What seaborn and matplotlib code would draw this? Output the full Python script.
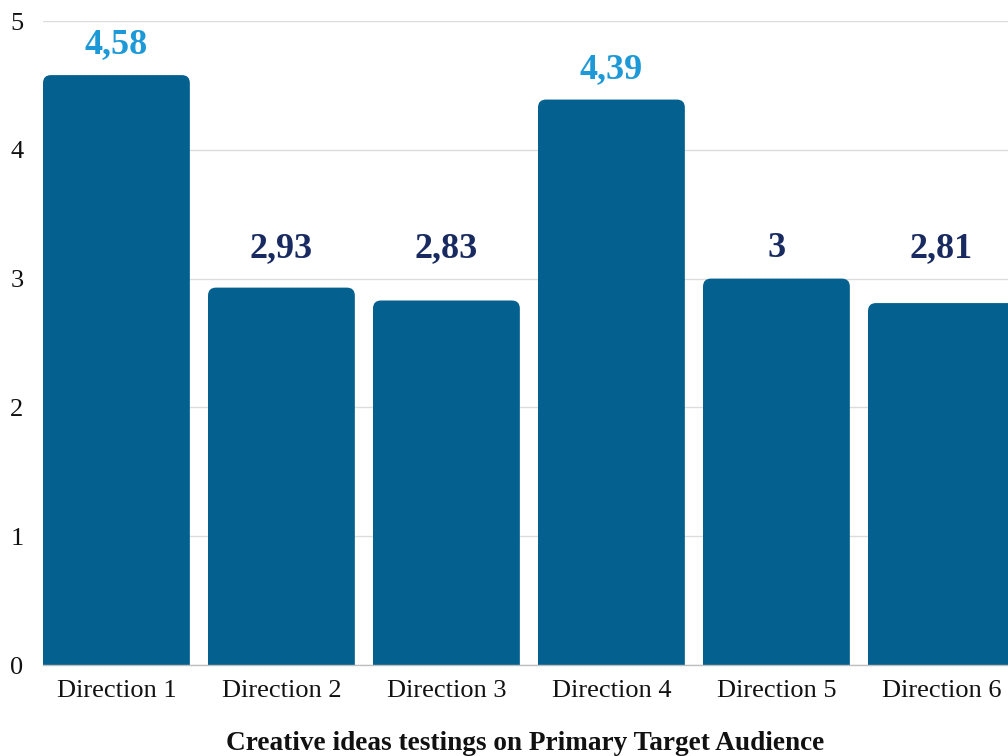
import matplotlib
matplotlib.use("Agg")
import matplotlib.pyplot as plt
from matplotlib.patches import FancyBboxPatch
import seaborn as sns
import pandas as pd

# Data
directions = ["Direction 1", "Direction 2", "Direction 3", "Direction 4", "Direction 5", "Direction 6"]
scores = [4.58, 2.93, 2.83, 4.39, 3.0, 2.81]
score_labels = ["4,58", "2,93", "2,83", "4,39", "3", "2,81"]
highlighted = [True, False, False, True, False, False]
y_ticks = [0, 1, 2, 3, 4, 5]
x_title = "Creative ideas testings on Primary Target Audience"

BAR_COLOR = "#04618F"
HIGHLIGHT_COLOR = "#1C99D6"
LABEL_COLOR = "#182A60"
GRID_COLOR = "#DCDCDC"

sns.set_theme(style="white")
plt.rcParams["font.family"] = ["Liberation Serif", "DejaVu Serif"]

df = pd.DataFrame({"direction": directions, "score": scores})

fig = plt.figure(figsize=(10.08, 7.56), dpi=100)
ax = fig.add_axes([43 / 1008, 1 - 665 / 756, 1 - 43 / 1008, (665 - 21) / 756])

sns.barplot(data=df, x="direction", y="score", color=BAR_COLOR, width=0.89,
            saturation=1, ax=ax, zorder=2)

ax.set_xlim(-0.445, -0.445 + (1008 - 43) / 165)
ax.set_ylim(0, 5)

# Swap plain rectangles for bars with rounded top corners
px_x = (ax.get_xlim()[1] - ax.get_xlim()[0]) / (1008 - 43)
px_y = 5 / (665 - 21)
aspect = px_y / px_x
radius = 8 * px_x
for patch in list(ax.patches):
    x0, w, h = patch.get_x(), patch.get_width(), patch.get_height()
    patch.remove()
    ax.add_patch(FancyBboxPatch((x0, -0.3), w, h + 0.3,
                                boxstyle=f"round,pad=0,rounding_size={radius}",
                                mutation_aspect=aspect, facecolor=BAR_COLOR,
                                edgecolor="none", zorder=2))

# Value labels
for i, (v, txt, hi) in enumerate(zip(scores, score_labels, highlighted)):
    ax.annotate(txt, (i, max(v, 3.0)), xytext=(0, 15.5), textcoords="offset points",
                ha="center", va="baseline", fontsize=26, fontweight="bold",
                color=HIGHLIGHT_COLOR if hi else LABEL_COLOR, zorder=3)

ax.set_yticks(y_ticks)
ax.yaxis.grid(True, color=GRID_COLOR, linewidth=1, zorder=0)
ax.set_axisbelow(True)
for side in ["top", "right", "left"]:
    ax.spines[side].set_visible(False)
ax.spines["bottom"].set_color("#BFBFBF")
ax.spines["bottom"].set_linewidth(1)
ax.spines["bottom"].set_zorder(4)

ax.tick_params(axis="y", length=0, pad=14, labelsize=19, labelcolor="#111111")
ax.tick_params(axis="x", length=0, pad=11, labelsize=19, labelcolor="#111111")
ax.set_ylabel("")
ax.set_xlabel(x_title, fontsize=19.6, fontweight="bold", color="#111111", labelpad=21)

fig.savefig("out.png", dpi=100)
